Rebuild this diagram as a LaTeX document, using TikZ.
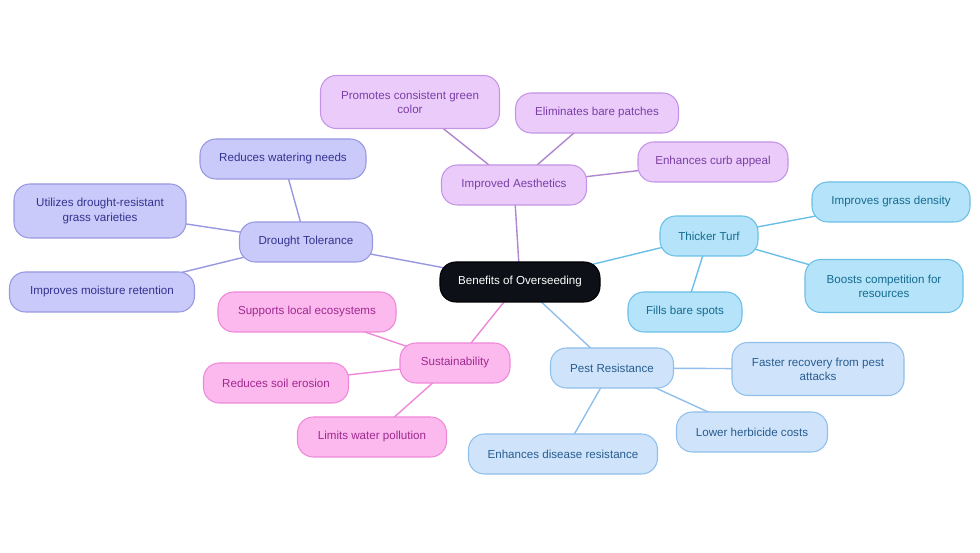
\documentclass[tikz,border=0pt]{standalone}
\usepackage{fontspec}
\setmainfont{Liberation Sans}
\usetikzlibrary{backgrounds}
\definecolor{cfill}{HTML}{0D1117}
\definecolor{afill}{HTML}{EACBFA}\definecolor{aline}{HTML}{C495E6}\definecolor{atext}{HTML}{7B3FA6}
\definecolor{dfill}{HTML}{C9C9FA}\definecolor{dline}{HTML}{9898E0}\definecolor{dtext}{HTML}{33338F}
\definecolor{tfill}{HTML}{B5E3F9}\definecolor{tline}{HTML}{6BBFE6}\definecolor{ttext}{HTML}{156C90}
\definecolor{sfill}{HTML}{FCB9EE}\definecolor{sline}{HTML}{EE88D8}\definecolor{stext}{HTML}{A0288F}
\definecolor{pfill}{HTML}{CFE4FB}\definecolor{pline}{HTML}{8FBFEA}\definecolor{ptext}{HTML}{285C8E}
\begin{document}
\begin{tikzpicture}[x=0.02cm,y=-0.02cm,
 box/.style={rounded corners=9pt,draw,line width=0.6pt,minimum height=40*0.02cm,align=center,font=\fontsize{6.6}{8}\selectfont,inner sep=0pt},
 A/.style={box,fill=afill,draw=aline,text=atext},
 D/.style={box,fill=dfill,draw=dline,text=dtext},
 T/.style={box,fill=tfill,draw=tline,text=ttext},
 S/.style={box,fill=sfill,draw=sline,text=stext},
 P/.style={box,fill=pfill,draw=pline,text=ptext},
 e/.style={line width=0.8pt}]
\useasboundingbox (0,0) rectangle (980,553);
\node[box,fill=cfill,text=white,minimum width=160*0.02cm] (c) at (520,282) {Benefits of Overseeding};
\node[A,minimum width=145*0.02cm] (a) at (514,185) {Improved Aesthetics};
\node[A,minimum width=179*0.02cm,minimum height=53*0.02cm] (a1) at (410,102) {Promotes consistent green\\color};
\node[A,minimum width=163*0.02cm] (a2) at (597,113) {Eliminates bare patches};
\node[A,minimum width=150*0.02cm] (a3) at (713,162) {Enhances curb appeal};
\node[D,minimum width=133*0.02cm] (d) at (306,242) {Drought Tolerance};
\node[D,minimum width=166*0.02cm] (d1) at (283,159) {Reduces watering needs};
\node[D,minimum width=172*0.02cm,minimum height=54*0.02cm] (d2) at (100,211) {Utilizes drought-resistant\\grass varieties};
\node[D,minimum width=185*0.02cm] (d3) at (102,292) {Improves moisture retention};
\node[T,minimum width=98*0.02cm] (t) at (709,236) {Thicker Turf};
\node[T,minimum width=158*0.02cm] (t1) at (891,202) {Improves grass density};
\node[T,minimum width=158*0.02cm,minimum height=53*0.02cm] (t2) at (884,286) {Boosts competition for\\resources};
\node[T,minimum width=114*0.02cm] (t3) at (685,312) {Fills bare spots};
\node[S,minimum width=110*0.02cm] (s) at (455,363) {Sustainability};
\node[S,minimum width=178*0.02cm] (s1) at (307,312) {Supports local ecosystems};
\node[S,minimum width=145*0.02cm] (s2) at (276,383) {Reduces soil erosion};
\node[S,minimum width=149*0.02cm] (s3) at (372,437) {Limits water pollution};
\node[P,minimum width=123*0.02cm] (p) at (612,368) {Pest Resistance};
\node[P,minimum width=172*0.02cm,minimum height=53*0.02cm] (p1) at (818,369) {Faster recovery from pest\\attacks};
\node[P,minimum width=151*0.02cm] (p2) at (752,432) {Lower herbicide costs};
\node[P,minimum width=189*0.02cm] (p3) at (563,454) {Enhances disease resistance};
\begin{scope}[on background layer]
\draw[e,draw=aline!90!black] (c.center)--(a.center) (a.center)--(a1.center) (a.center)--(a2.center) (a.center)--(a3.center);
\draw[e,draw=dline] (c.center)--(d.center) (d.center)--(d1.center) (d.center)--(d2.center) (d.center)--(d3.center);
\draw[e,draw=tline] (c.center)--(t.center) (t.center)--(t1.center) (t.center)--(t2.center) (t.center)--(t3.center);
\draw[e,draw=sline] (c.center)--(s.center) (s.center)--(s1.center) (s.center)--(s2.center) (s.center)--(s3.center);
\draw[e,draw=pline] (c.center)--(p.center) (p.center)--(p1.center) (p.center)--(p2.center) (p.center)--(p3.center);
\end{scope}
\end{tikzpicture}
\end{document}
